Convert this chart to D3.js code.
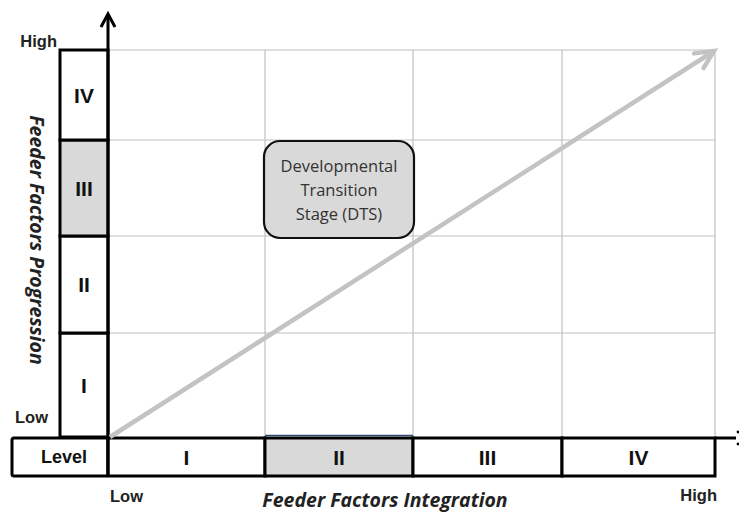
<!DOCTYPE html>
<html><head><meta charset="utf-8">
<script src="https://cdn.jsdelivr.net/npm/d3@7"></script>
<style>body{margin:0;background:#fff}svg{display:block}</style>
</head><body>
<svg id="c" width="739" height="514"></svg>
<script>
const levels = ["I", "II", "III", "IV"];
const highlightY = "III";
const highlightX = "II";
const axisEnds = ["Low", "High"];
const xTitle = "Feeder Factors Integration";
const yTitle = "Feeder Factors Progression";
const boxLines = ["Developmental", "Transition", "Stage (DTS)"];
const trend = [[0, 0], [4, 4]];

const svg = d3.select("#c");
const x = d3.scaleLinear().domain([0, 1, 2, 3, 4]).range([108, 265, 413, 562, 715]);
const y = d3.scaleLinear().domain([0, 1, 2, 3, 4]).range([437, 333, 236, 140, 50]);
const arial = "Arial, 'Liberation Sans', sans-serif";
const cal = "'Open Sans', sans-serif";

// grid
const g = svg.append("g");
d3.range(1, 5).forEach(i => {
  g.append("line").attr("x1", x(i)).attr("x2", x(i)).attr("y1", y(4)).attr("y2", y(0))
    .attr("stroke", "#c0c0c0").attr("stroke-width", 1.2);
  g.append("line").attr("x1", x(0)).attr("x2", x(4)).attr("y1", y(i)).attr("y2", y(i))
    .attr("stroke", "#c0c0c0").attr("stroke-width", 1.2);
});

// left column
const colX0 = 60;
levels.forEach((l, i) => {
  svg.append("rect").attr("x", colX0).attr("y", y(i + 1)).attr("width", x(0) - colX0)
    .attr("height", y(i) - y(i + 1))
    .attr("fill", l === highlightY ? "#d9d9d9" : "#fff")
    .attr("stroke", "#000").attr("stroke-width", 3);
  svg.append("text").attr("x", (colX0 + x(0)) / 2).attr("y", (y(i) + y(i + 1)) / 2 + 7.5)
    .attr("text-anchor", "middle").attr("font-family", arial).attr("font-weight", "bold")
    .attr("font-size", 21).attr("fill", "#111").text(l);
});

// bottom row
const rowY0 = 438, rowY1 = 476;
svg.append("rect").attr("x", 12).attr("y", rowY0).attr("width", x(0) - 12).attr("height", rowY1 - rowY0)
  .attr("fill", "#fff").attr("stroke", "#000").attr("stroke-width", 3).attr("rx", 2);
svg.append("text").attr("x", 64).attr("y", 463).attr("text-anchor", "middle")
  .attr("font-family", arial).attr("font-weight", "bold").attr("font-size", 18).attr("fill", "#111").text("Level");
levels.forEach((l, i) => {
  svg.append("rect").attr("x", x(i)).attr("y", rowY0).attr("width", x(i + 1) - x(i)).attr("height", rowY1 - rowY0)
    .attr("fill", l === highlightX ? "#d9d9d9" : "#fff")
    .attr("stroke", "#000").attr("stroke-width", 3);
  svg.append("text").attr("x", (x(i) + x(i + 1)) / 2).attr("y", 465)
    .attr("text-anchor", "middle").attr("font-family", arial).attr("font-weight", "bold")
    .attr("font-size", 21).attr("fill", "#111").text(l);
  if (l === highlightX) {
    svg.append("line").attr("x1", x(i)).attr("x2", x(i + 1)).attr("y1", rowY0 - 2.5).attr("y2", rowY0 - 2.5)
      .attr("stroke", "#2e4a6e").attr("stroke-width", 1.5);
  }
});

// x axis line extension
svg.append("line").attr("x1", x(4)).attr("x2", 736).attr("y1", rowY0).attr("y2", rowY0)
  .attr("stroke", "#000").attr("stroke-width", 3);
svg.append("circle").attr("cx", 738).attr("cy", 432).attr("r", 1.4).attr("fill", "#000");
svg.append("circle").attr("cx", 738).attr("cy", 444).attr("r", 1.4).attr("fill", "#000");

// y axis with arrow
svg.append("line").attr("x1", x(0)).attr("x2", x(0)).attr("y1", rowY1).attr("y2", 14)
  .attr("stroke", "#000").attr("stroke-width", 3);
svg.append("path").attr("d", `M${x(0) - 7},${27} L${x(0)},${14} L${x(0) + 7},${27}`)
  .attr("fill", "none").attr("stroke", "#000").attr("stroke-width", 3).attr("stroke-linejoin", "miter");

// trend arrow
const [p0, p1] = trend;
const ax0 = x(p0[0]) + 2, ay0 = y(p0[1]), ax1 = x(p1[0]) - 1, ay1 = y(p1[1]) + 1;
svg.append("line").attr("x1", ax0).attr("y1", ay0).attr("x2", ax1 - 3).attr("y2", ay1 + 2)
  .attr("stroke", "#c3c3c3").attr("stroke-width", 4.5);
const ang = Math.atan2(ay1 - ay0, ax1 - ax0);
const hl = 20, hw = 0.45;
svg.append("path")
  .attr("d", `M${ax1 - hl * Math.cos(ang - hw)},${ay1 - hl * Math.sin(ang - hw)} L${ax1},${ay1} L${ax1 - hl * Math.cos(ang + hw)},${ay1 - hl * Math.sin(ang + hw)}`)
  .attr("fill", "none").attr("stroke", "#c3c3c3").attr("stroke-width", 4.5).attr("stroke-linecap", "round");

// DTS box
svg.append("rect").attr("x", 264).attr("y", 141).attr("width", 150).attr("height", 97).attr("rx", 16)
  .attr("fill", "#d9d9d9").attr("stroke", "#111").attr("stroke-width", 2.2);
boxLines.forEach((t, i) => {
  svg.append("text").attr("x", 339).attr("y", 172 + i * 24).attr("text-anchor", "middle")
    .attr("font-family", cal).attr("font-size", 16.5).attr("fill", "#333").text(t);
});

// end labels
const lab = (tx, ty, t, anchor) => svg.append("text").attr("x", tx).attr("y", ty).attr("text-anchor", anchor || "start")
  .attr("font-family", arial).attr("font-weight", "bold").attr("font-size", 16.5).attr("fill", "#222").text(t);
lab(57, 47, axisEnds[1], "end");
lab(48, 423, axisEnds[0], "end");
lab(110, 502, axisEnds[0]);
lab(717, 501, axisEnds[1], "end");

// titles
svg.append("text").attr("x", 385).attr("y", 507).attr("text-anchor", "middle")
  .attr("font-family", cal).attr("font-style", "italic").attr("font-weight", "bold")
  .attr("font-size", 19.5).attr("fill", "#222").text(xTitle);
svg.append("text").attr("transform", "translate(30,240) rotate(90)").attr("text-anchor", "middle")
  .attr("font-family", cal).attr("font-style", "italic").attr("font-weight", "bold")
  .attr("font-size", 19.5).attr("fill", "#222").text(yTitle);
</script>
</body></html>
